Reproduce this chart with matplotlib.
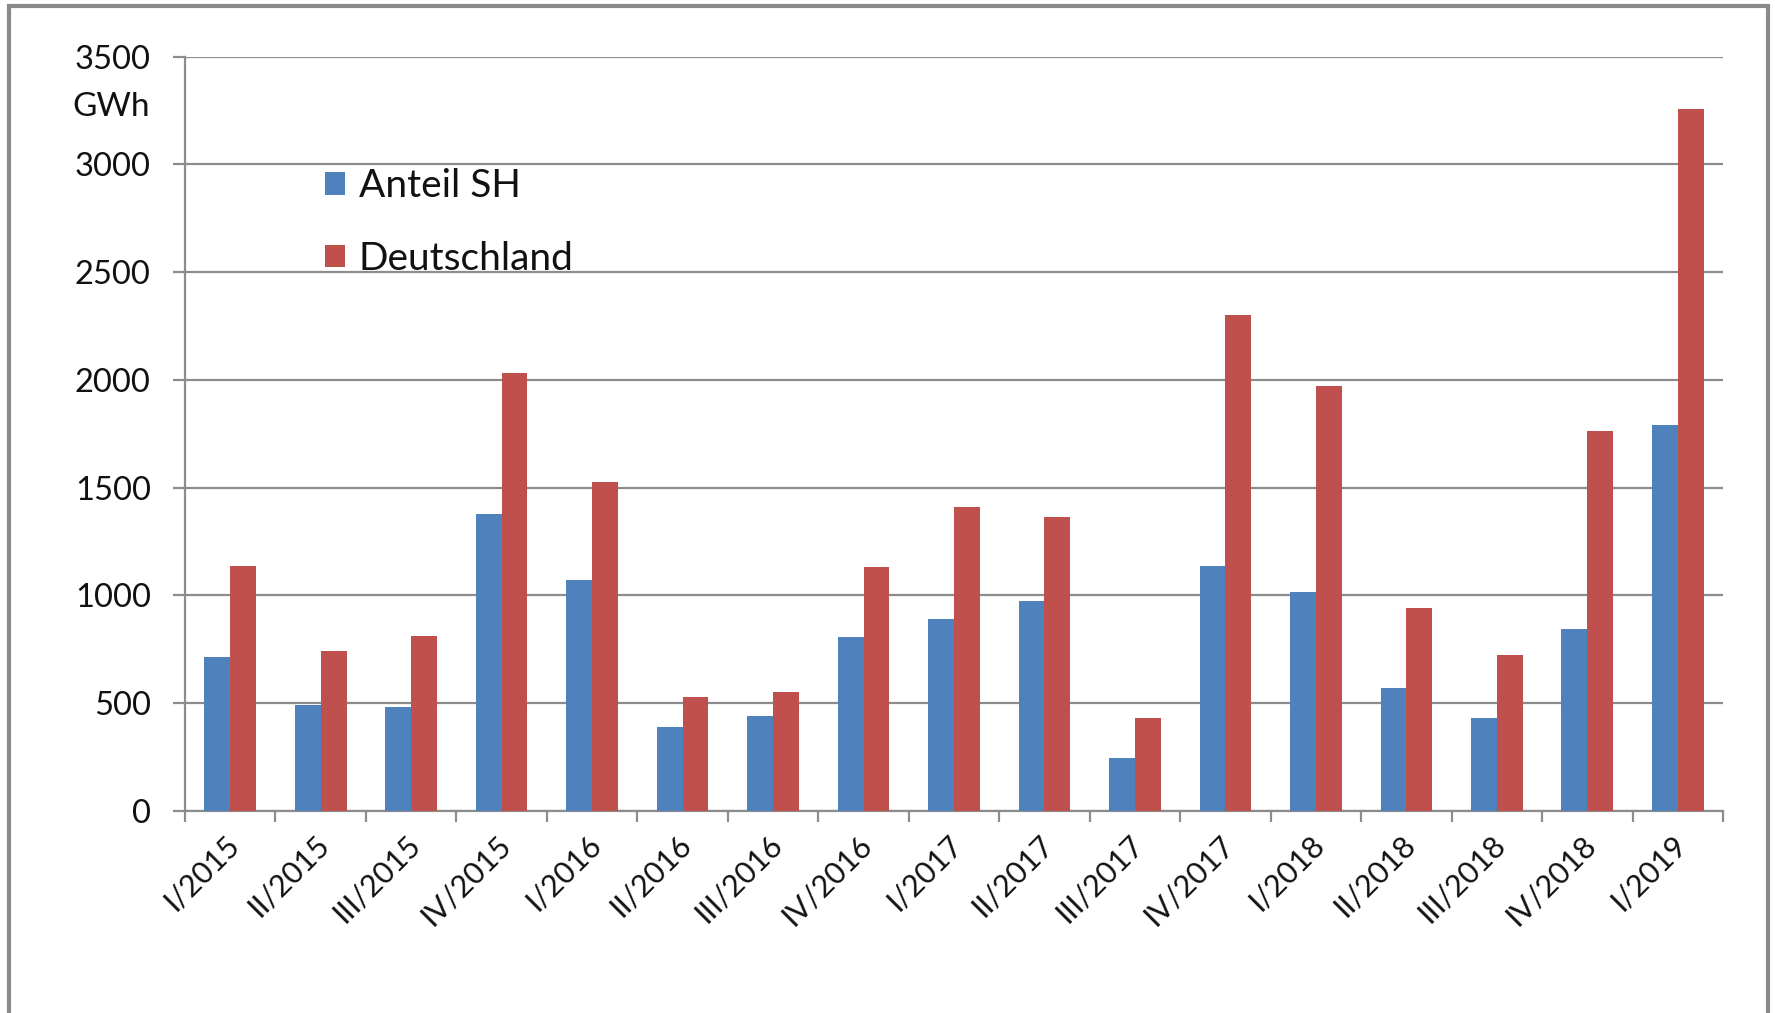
import matplotlib
matplotlib.use("Agg")
import matplotlib.pyplot as plt
import matplotlib.transforms as mtransforms
from matplotlib.patches import Rectangle
import numpy as np

categories = ["I/2015", "II/2015", "III/2015", "IV/2015", "I/2016", "II/2016", "III/2016", "IV/2016",
              "I/2017", "II/2017", "III/2017", "IV/2017", "I/2018", "II/2018", "III/2018", "IV/2018", "I/2019"]
anteil_sh = [716, 490, 481, 1380, 1072, 392, 441, 806, 893, 976, 246, 1135, 1015, 570, 430, 845, 1793]
deutschland = [1137, 740, 814, 2034, 1526, 531, 554, 1130, 1412, 1363, 432, 2303, 1972, 943, 723, 1761, 3258]
yticks = [0, 500, 1000, 1500, 2000, 2500, 3000, 3500]
series_names = ["Anteil SH", "Deutschland"]
unit_label = "GWh"

plt.rcParams['font.family'] = ['Lato', 'DejaVu Sans']

W, H = 1775, 1013
fig = plt.figure(figsize=(W / 100, H / 100), dpi=100)
fig.patch.set_facecolor('white')

left, right, top, bottom = 185, 1723, 56.6, 811
ax = fig.add_axes([left / W, 1 - bottom / H, (right - left) / W, (bottom - top) / H])

blue = '#4F81BD'
red = '#C0504D'
grey = '#8C8C8C'
txt = '#111111'

x = np.arange(len(categories))
bw = 1 / 3.5
ax.bar(x - bw / 2, anteil_sh, width=bw, color=blue, label=series_names[0], zorder=3)
ax.bar(x + bw / 2, deutschland, width=bw, color=red, label=series_names[1], zorder=3)

ax.set_xlim(-0.5, len(categories) - 0.5)
ax.set_ylim(0, 3500)
ax.set_yticks(yticks)
ax.set_yticklabels([str(v) for v in yticks], fontsize=23.5, color=txt)
ax.yaxis.grid(True, color=grey, lw=1.6)
ax.set_axisbelow(True)

for s in ['top', 'right']:
    ax.spines[s].set_visible(False)
for s in ['left', 'bottom']:
    ax.spines[s].set_color(grey)
    ax.spines[s].set_linewidth(1.6)

ax.tick_params(axis='y', direction='out', length=8.6, width=1.6, color=grey, pad=16)

ax.set_xticks(np.arange(-0.5, len(categories), 1.0))
ax.set_xticklabels([])
ax.tick_params(axis='x', which='major', direction='out', length=8, width=1.6, color=grey)
ax.set_xticks(x, minor=True)
ax.set_xticklabels(categories, minor=True, rotation=45, ha='right', va='top',
                   fontsize=22, color=txt)
ax.tick_params(axis='x', which='minor', length=0, pad=14)
offset = mtransforms.ScaledTranslation(10 / 72, 0, fig.dpi_scale_trans)
for lbl in ax.get_xticklabels(minor=True):
    lbl.set_transform(lbl.get_transform() + offset)

fig.text(150 / W, 1 - 107 / H, unit_label, ha='right', va='center', fontsize=24, color=txt)

leg = ax.legend(loc='upper left', bbox_to_anchor=(325 / W, 1 - 168 / H), bbox_transform=fig.transFigure,
                frameon=False, fontsize=28, handlelength=0.52, handleheight=0.52,
                handletextpad=0.35, labelspacing=0.95, borderpad=0, borderaxespad=0)
for t in leg.get_texts():
    t.set_color(txt)

fig.patches.append(Rectangle((9 / W, -0.05), (1768 - 9) / W, (H - 6) / H + 0.05,
                             transform=fig.transFigure, fill=False, edgecolor='#8a8a8a', lw=3))

fig.savefig('out.png', dpi=100)
